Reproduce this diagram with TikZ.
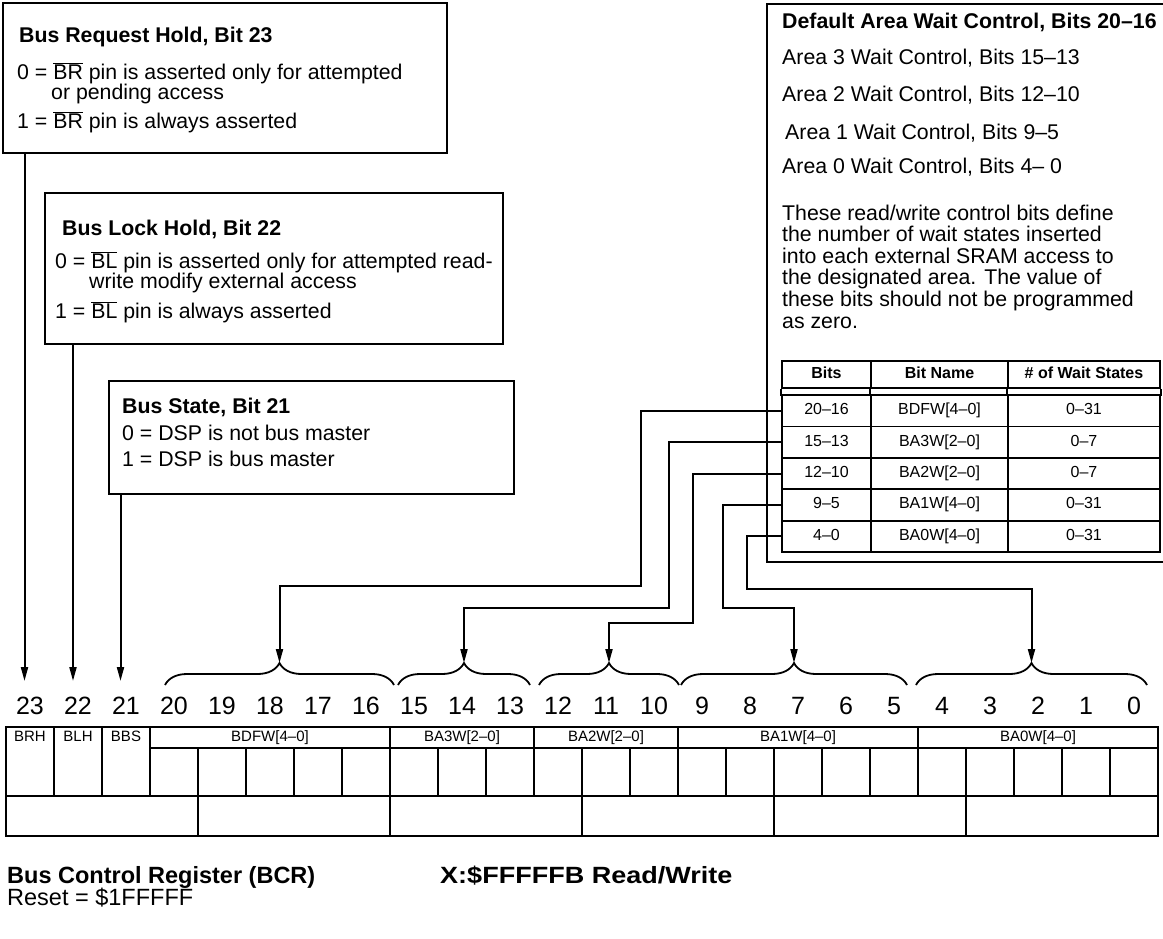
\documentclass[tikz,border=0pt]{standalone}
\usepackage{fontspec}
\setmainfont{Liberation Sans}
\usetikzlibrary{arrows.meta,decorations.pathreplacing}

\newcommand{\ovl}[1]{\ensuremath{\overline{\hbox{#1}}}}

\tikzset{
  box/.style={draw, line width=2.4pt, inner sep=0pt, anchor=north west},
  txt/.style={anchor=base west, inner sep=0pt, font=\fontsize{21.3}{18}\selectfont},
  head/.style={txt, font=\fontsize{21.3}{18}\selectfont\bfseries},
  cell/.style={draw, line width=1.8pt, inner sep=0pt, minimum height=31.4pt,
    text height=11.5pt, text depth=3.5pt, font=\fontsize{16}{18}\selectfont},
  hcell/.style={cell, minimum height=27pt, font=\fontsize{16}{18}\selectfont\bfseries},
  bitnum/.style={anchor=base, inner sep=0pt, font=\fontsize{25}{25}\selectfont},
  fld/.style={inner sep=0pt, text height=10.5pt, text depth=3pt, font=\fontsize{15}{15}\selectfont},
  reg/.style={line width=1.8pt},
  arr/.style={line width=2pt, -{Triangle[length=14pt,width=7pt]}},
  brc/.style={line width=1.8pt, decorate, decoration={brace, amplitude=22pt}},
}

\begin{document}
\begin{tikzpicture}[x=1pt, y=-1pt]
    \useasboundingbox (0,0) rectangle (1163,938);

    % Riquadri
    \node[box, minimum width=444pt, minimum height=150pt] (brh) at (2,2) {};
    \node[head] (brhT) at (19,42) {Bus Request Hold, Bit 23};
    \node[txt] (brh0) at (17,79) {0 = \ovl{BR} pin is asserted only for attempted};
    \node[txt] (brh0b) at (51,99.5) {or pending access};
    \node[txt] (brh1) at (17,128) {1 = \ovl{BR} pin is always asserted};

    \node[box, minimum width=458pt, minimum height=151pt] (blh) at (44,192) {};
    \node[head] (blhT) at (62,235) {Bus Lock Hold, Bit 22};
    \node[txt] (blh0) at (55,268) {0 = \ovl{BL} pin is asserted only for attempted read-};
    \node[txt] (blh0b) at (89,288.5) {write modify external access};
    \node[txt] (blh1) at (55,318) {1 = \ovl{BL} pin is always asserted};

    \node[box, minimum width=405pt, minimum height=113pt] (bbs) at (108,380) {};
    \node[head] (bbsT) at (122,413) {Bus State, Bit 21};
    \node[txt] (bbs0) at (122,440) {0 = DSP is not bus master};
    \node[txt] (bbs1) at (122,466) {1 = DSP is bus master};

    \node[box, minimum width=404pt, minimum height=558pt] (baw) at (766,3) {};
    \node[head] (bawT) at (782,28) {Default Area Wait Control, Bits 20--16};
    \node[txt] (baw3) at (782,64) {Area 3 Wait Control, Bits 15--13};
    \node[txt] (baw2) at (782,101) {Area 2 Wait Control, Bits 12--10};
    \node[txt] (baw1) at (785,139) {Area 1 Wait Control, Bits 9--5};
    \node[txt] (baw0) at (782,173) {Area 0 Wait Control, Bits 4-- 0};
    \foreach \t [count=\k] in {These read/write control bits define,
        the number of wait states inserted, into each external SRAM access to,
        the designated area. The value of, these bits should not be programmed,
        as zero.}
        \node[txt] (par\k) at (782,{220+21.6*(\k-1)}) {\t};

    % Tabella
    \node[hcell, minimum width=89pt] (hb) at (826.5,374.5) {Bits};
    \node[hcell, minimum width=137pt] (hn) at (939.5,374.5) {Bit Name};
    \node[hcell, minimum width=152pt] (hw) at (1084,374.5) {\# of Wait States};
    \foreach \c in {hb.south west, hn.south west, hw.south west, hw.south east}
        \draw[reg] (\c) -- ++(0,7);
    \foreach \bb/\nm/\ws [count=\i] in {20--16/{BDFW[4--0]}/0--31, 15--13/{BA3W[2--0]}/0--7,
        12--10/{BA2W[2--0]}/0--7, 9--5/{BA1W[4--0]}/0--31, 4--0/{BA0W[4--0]}/0--31} {
        \node[cell, minimum width=89pt] (r\i) at (826.5,{379.3+31.4*\i}) {\bb};
        \node[cell, minimum width=137pt] (m\i) at (939.5,{379.3+31.4*\i}) {\nm};
        \node[cell, minimum width=152pt] (w\i) at (1084,{379.3+31.4*\i}) {\ws};
    }

    % Numeri dei bit
    \foreach \i in {0,...,23}
        \node[bitnum] (n\i) at ({30+(23-\i)*48},714) {\i};

    % Graffe
    \foreach \a/\b [count=\i] in {165/394, 398/530, 539/679, 681/907, 916/1147} {
        \draw[brc] (\a,685) -- (\b,685);
        \coordinate (tip\i) at ({(\a+\b)/2},663);
    }

    % Frecce dai riquadri
    \coordinate (p23) at (24.5,681);
    \coordinate (p22) at (73,681);
    \coordinate (p21) at (120.5,681);
    \draw[arr] (p23 |- brh.south) -- (p23);
    \draw[arr] (p22 |- blh.south) -- (p22);
    \draw[arr] (p21 |- bbs.south) -- (p21);

    % Collegamenti dalla tabella
    \draw[arr] (r1.west) -| (641,586) -| (tip1);
    \draw[arr] (r2.west) -| (669,608) -| (tip2);
    \draw[arr] (r3.west) -| (693,623) -| (tip3);
    \draw[arr] (r4.west) -| (723,608) -| (tip4);
    \draw[arr] (r5.west) -| (747,589) -| (tip5);

    % Registro
    \draw[line width=2.4pt] (6,727) rectangle (1158,836);
    \draw[reg] (6,796) -- (1158,796);
    \draw[reg] (150,748) -- (1158,748);
    \foreach \x in {54,102,150,390,534,678,918}
        \draw[reg] (\x,727) -- (\x,796);
    \foreach \k in {4,...,23}
        \draw[reg] ({6+\k*48},748) -- ({6+\k*48},796);
    \foreach \x in {198,390,582,774,966}
        \draw[reg] (\x,796) -- (\x,836);
    \foreach \x/\t [count=\i] in {30/BRH, 78/BLH, 126/BBS, 270/{BDFW[4--0]},
        462/{BA3W[2--0]}, 606/{BA2W[2--0]}, 798/{BA1W[4--0]}, 1038/{BA0W[4--0]}}
        \node[fld] (fld\i) at (\x,737.5) {\t};

    % Titolo
    \node[head, font=\fontsize{23.5}{24}\selectfont\bfseries] (bcr) at (7,883) {Bus Control Register (BCR)};
    \node[txt, font=\fontsize{23.5}{24}\selectfont] (reset) at (7,905) {Reset = \$1FFFFF};
    \node[head, font=\fontsize{23.5}{24}\selectfont\bfseries\addfontfeature{FakeStretch=1.15}] (addr) at (440,883) {X:\$FFFFFB Read/Write};
\end{tikzpicture}
\end{document}
